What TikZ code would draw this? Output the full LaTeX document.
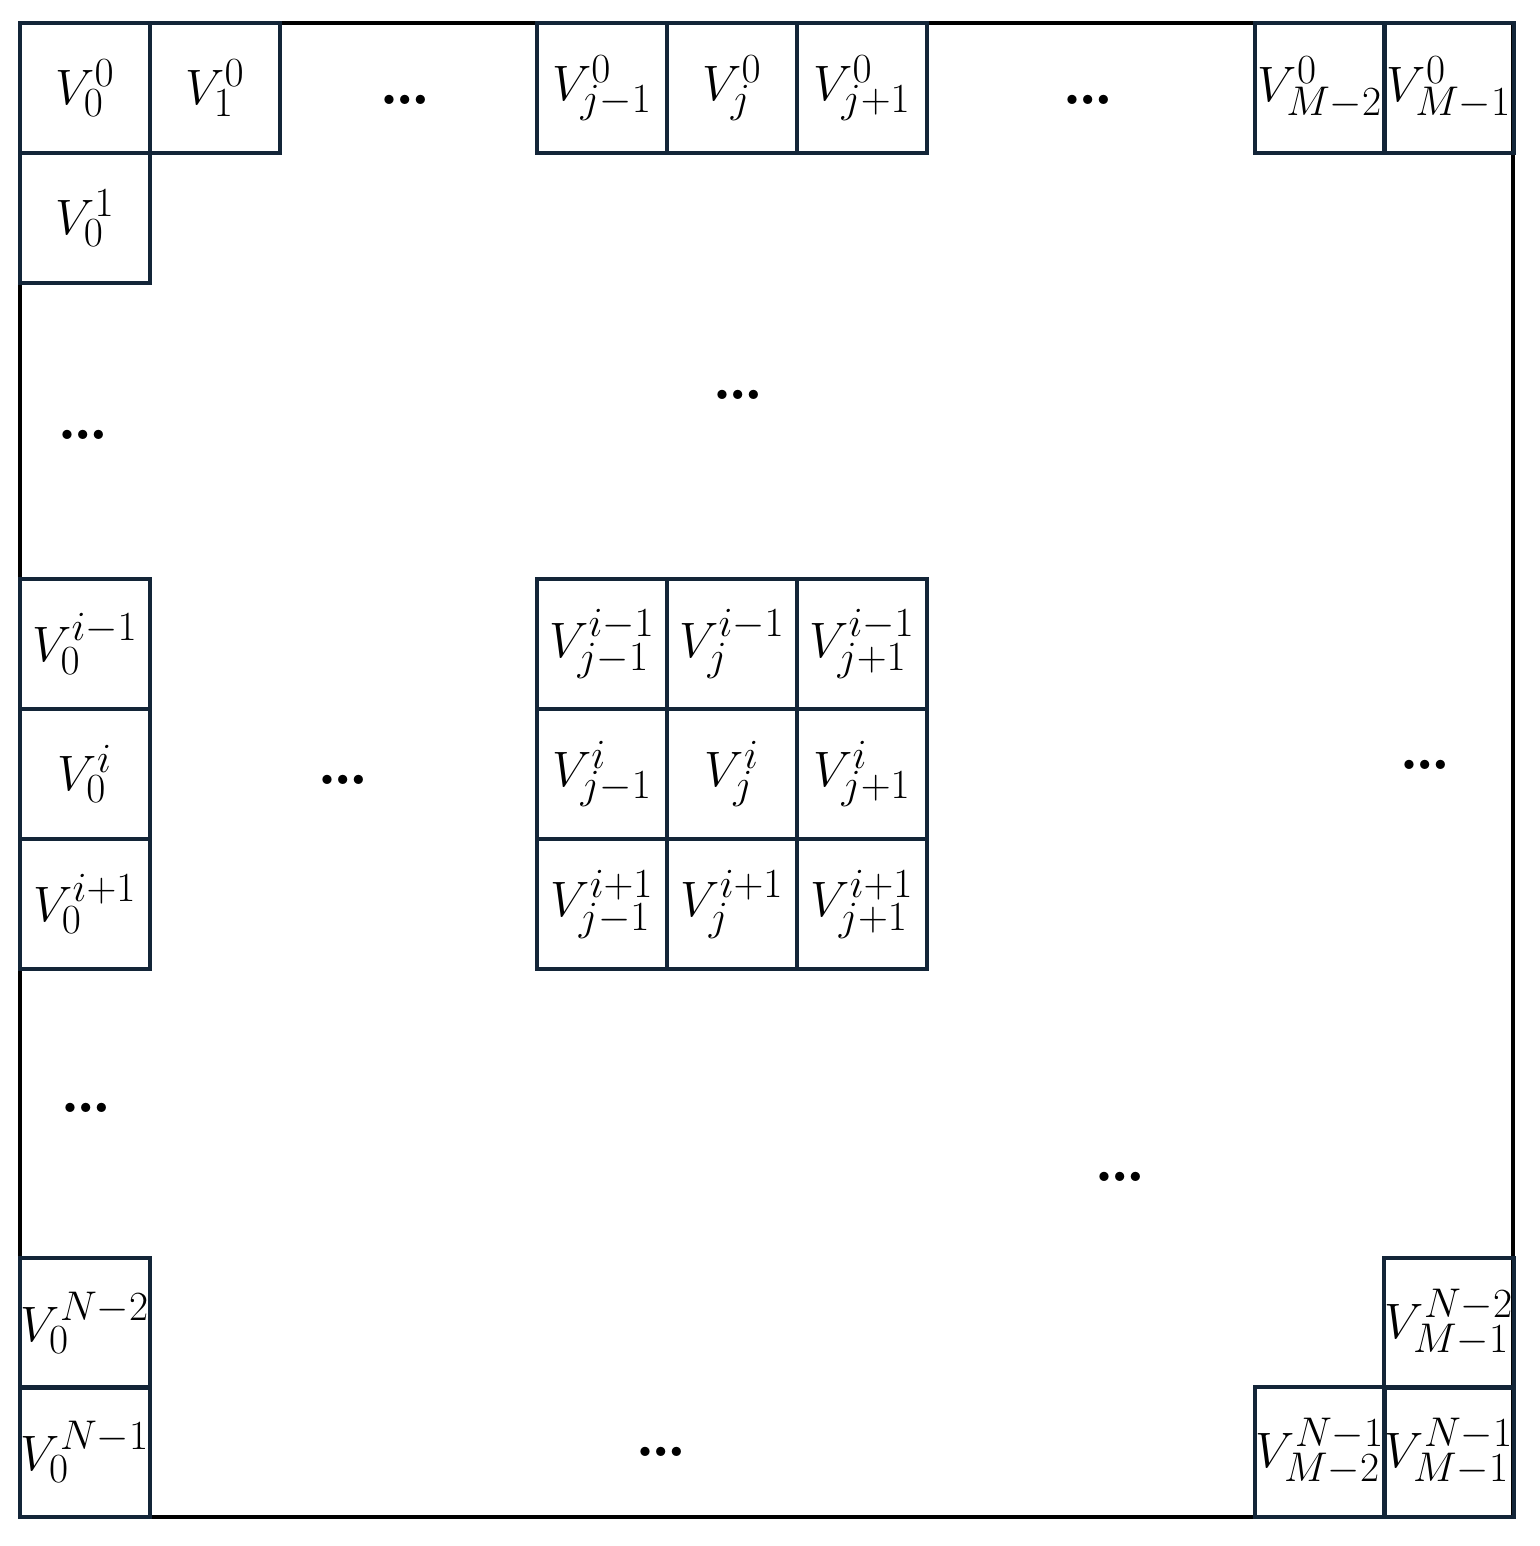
\documentclass[tikz,border=0pt]{standalone}
\usepackage{fontspec}
\definecolor{cellc}{RGB}{19,37,56}
\tikzset{
  cell/.style={draw=cellc, line width=2pt, minimum width=65pt, minimum height=65pt,
    inner sep=0pt, font=\fontsize{30}{34}\selectfont},
  ell/.style={font=\bfseries\fontsize{32}{36}\selectfont, inner sep=0pt},
  frame/.style={draw=black, line width=2pt}
}
\begin{document}
\begin{tikzpicture}[x=0.5pt,y=-0.5pt]
\useasboundingbox (0,0) rectangle (1540,1546);
\draw[frame] (20,23) rectangle (1513,1517);
% top row
\node[cell] (t0) at (85,88) {$V_0^0$};
\node[cell] (t1) at (215,88) {$V_1^0$};
\node[cell] (tjm) at (602,88) {$V_{j-1}^0$};
\node[cell] (tj) at (732,88) {$V_j^0$};
\node[cell] (tjp) at (862,88) {$V_{j+1}^0$};
\node[cell] (tm2) at (1320,88) {$V_{M-2}^0$};
\node[cell] (tm1) at (1449,88) {$V_{M-1}^0$};
% left column
\node[cell] (l1) at (85,218) {$V_0^1$};
\node[cell] (lim) at (85,644) {$V_0^{i-1}$};
\node[cell] (li) at (85,774) {$V_0^{i}$};
\node[cell] (lip) at (85,904) {$V_0^{i+1}$};
\node[cell] (ln2) at (85,1323) {$V_0^{N-2}$};
\node[cell] (ln1) at (85,1452) {$V_0^{N-1}$};
% centre block
\node[cell] (c11) at (602,644) {$V_{j-1}^{i-1}$};
\node[cell] (c12) at (732,644) {$V_{j}^{i-1}$};
\node[cell] (c13) at (862,644) {$V_{j+1}^{i-1}$};
\node[cell] (c21) at (602,774) {$V_{j-1}^{i}$};
\node[cell] (c22) at (732,774) {$V_{j}^{i}$};
\node[cell] (c23) at (862,774) {$V_{j+1}^{i}$};
\node[cell] (c31) at (602,904) {$V_{j-1}^{i+1}$};
\node[cell] (c32) at (732,904) {$V_{j}^{i+1}$};
\node[cell] (c33) at (862,904) {$V_{j+1}^{i+1}$};
% bottom right
\node[cell] (rn2) at (1449,1323) {$V_{M-1}^{N-2}$};
\node[cell] (bm2) at (1320,1452) {$V_{M-2}^{N-1}$};
\node[cell] (bm1) at (1449,1452) {$V_{M-1}^{N-1}$};
% ellipses
\node[ell] (e1) at (405,100) {…};
\node[ell] (e2) at (1088,100) {…};
\node[ell] (e3) at (83,435) {…};
\node[ell] (e4) at (738,395) {…};
\node[ell] (e5) at (343,780) {…};
\node[ell] (e6) at (1425,765) {…};
\node[ell] (e7) at (86,1108) {…};
\node[ell] (e8) at (1120,1177) {…};
\node[ell] (e9) at (661,1452) {…};
\end{tikzpicture}
\end{document}
